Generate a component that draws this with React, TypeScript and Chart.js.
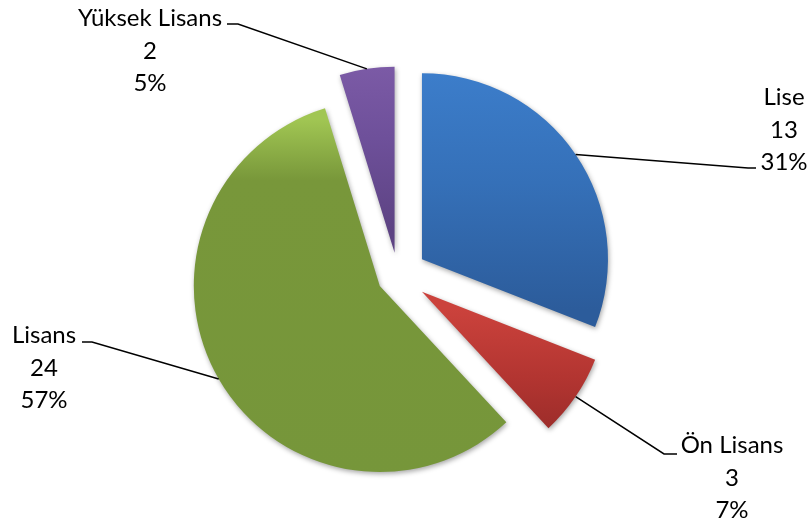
import React, { useEffect, useRef } from "react";
import { Chart, registerables } from "chart.js";

Chart.register(...registerables);

const categories = ["Lise", "Ön Lisans", "Lisans", "Yüksek Lisans"];
const values = [13, 3, 24, 2];
const explode = [29, 29, 21, 23];
const RADIUS = 186;

// gradient stops (top -> bottom) per slice
const gradTop = ["#3D7FCD", "#CB423C", "#A1C653", "#7F5DA9"];
const gradMid = ["#3570B8", "#B33531", "#78973A", "#6E509A"];
const gradBottom = ["#2C5C9B", "#962A28", "#76963A", "#5D4383"];
// gradient vertical extents relative to pie centre
const gradRange: [number, number][] = [[-202, 50], [17, 153], [-167, 195], [-206, -23]];
const gradMidStop = [0.5, 0.5, 0.17, 0.5];

// label layout relative to pie centre
const elbow: [number, number][] = [[350, -107.5], [266, 178.5], [-306, 66.5], [-160, -251.5]];
const hSeg = [8, 13, -10, -11];
const textPos: [number, number][] = [[386, -170.5], [334, 177.5], [-354, 67.5], [-248, -249.5]];
const LINE_H = 32.5;
const FONT = "24px Lato, 'Open Sans', sans-serif";

const total = values.reduce((a, b) => a + b, 0);

// Chart.js draws offset/4 and enlarges small slices; normalise so every slice
// has the same radius and is shifted by exactly `explode[i]` pixels.
const normalisePlugin = {
  id: "normaliseArcs",
  afterDatasetsUpdate(chart: any) {
    const meta = chart.getDatasetMeta(0);
    meta.data.forEach((arc: any, i: number) => {
      const circ = arc.circumference;
      const fix = 1 - Math.sin(Math.min(Math.PI, circ || 0));
      const ro = explode[i] * fix;
      arc.outerRadius = RADIUS - ro;
      const d = ro / (Math.PI * RADIUS);
      arc.startAngle -= d / 2;
      arc.endAngle += d / 2;
    });
  },
};

const shadowPlugin = {
  id: "shadow",
  beforeDatasetsDraw(chart: any) {
    const ctx = chart.ctx;
    ctx.save();
    ctx.shadowColor = "rgba(0,0,0,0.35)";
    ctx.shadowBlur = 5;
    ctx.shadowOffsetX = 1;
    ctx.shadowOffsetY = 2;
  },
  afterDatasetsDraw(chart: any) {
    chart.ctx.restore();
  },
};

const labelPlugin = {
  id: "pieLabels",
  afterDatasetsDraw(chart: any) {
    const ctx = chart.ctx;
    const meta = chart.getDatasetMeta(0);
    ctx.save();
    meta.data.forEach((arc: any, i: number) => {
      const { x, y, startAngle, endAngle } = arc.getProps(["x", "y", "startAngle", "endAngle"], true);
      const mid = (startAngle + endAngle) / 2;
      const off = explode[i];
      const sx = x + Math.cos(mid) * (RADIUS + off);
      const sy = y + Math.sin(mid) * (RADIUS + off);
      const ex = x + elbow[i][0];
      const ey = y + elbow[i][1];
      ctx.strokeStyle = "#000";
      ctx.lineWidth = 1.5;
      ctx.beginPath();
      ctx.moveTo(sx, sy);
      ctx.lineTo(ex, ey);
      ctx.lineTo(ex + hSeg[i], ey);
      ctx.stroke();

      const pct = Math.round((values[i] / total) * 100) + "%";
      const lines = [categories[i], String(values[i]), pct];
      ctx.fillStyle = "#000";
      ctx.font = FONT;
      ctx.textAlign = "center";
      ctx.textBaseline = "alphabetic";
      lines.forEach((t, k) => {
        ctx.fillText(t, x + textPos[i][0], y + textPos[i][1] + k * LINE_H);
      });
    });
    ctx.restore();
  },
};

export default function App() {
  const ref = useRef<HTMLCanvasElement>(null);
  useEffect(() => {
    if (!ref.current) return;
    const chart = new Chart(ref.current, {
      type: "pie",
      data: {
        labels: categories,
        datasets: [
          {
            data: values,
            offset: explode.map((o) => o * 4),
            borderWidth: 0,
            backgroundColor: (c: any) => {
              const i = c.dataIndex;
              const area = c.chart.chartArea;
              if (!area) return gradMid[i];
              const cy = (area.top + area.bottom) / 2;
              const g = c.chart.ctx.createLinearGradient(0, cy + gradRange[i][0], 0, cy + gradRange[i][1]);
              g.addColorStop(0, gradTop[i]);
              g.addColorStop(gradMidStop[i], gradMid[i]);
              g.addColorStop(1, gradBottom[i]);
              return g;
            },
          } as any,
        ],
      },
      options: {
        animation: false,
        responsive: false,
        maintainAspectRatio: false,
        radius: RADIUS,
        layout: { padding: { left: 0, right: 15, top: 23, bottom: 0 } },
        plugins: {
          legend: { display: false },
          tooltip: { enabled: false },
        },
      } as any,
      plugins: [normalisePlugin, shadowPlugin, labelPlugin],
    });
    return () => chart.destroy();
  }, []);
  return (
    <div style={{ position: "absolute", left: 0, top: 0, width: 811, height: 528, background: "#fff" }}>
      <canvas ref={ref} width={811} height={528} />
    </div>
  );
}
